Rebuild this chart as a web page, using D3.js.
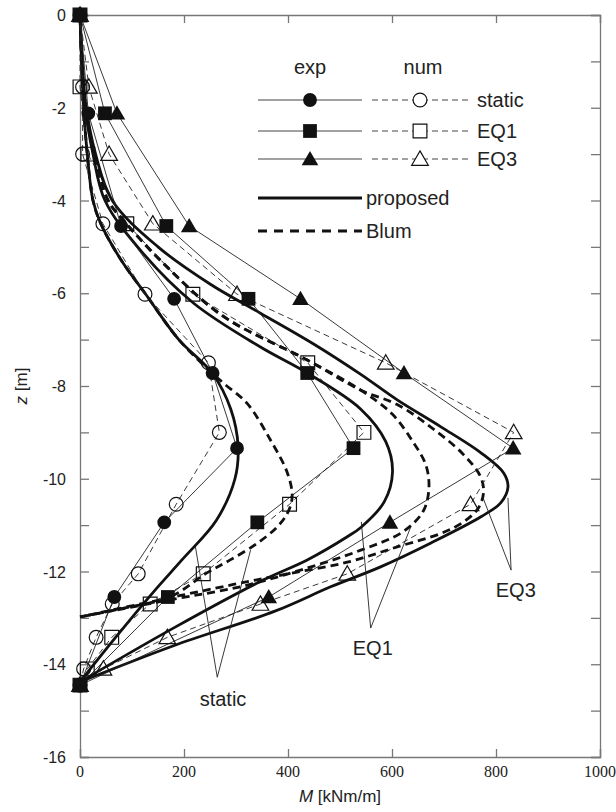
<!DOCTYPE html>
<html lang="en">
  <head>
    <meta charset="utf-8">
    <title>Bending moment profiles</title>
    <style type="text/css">
      body{
        margin: 0;
        background-color: white;
      }
      svg{
        display: block;
      }
      .ylab, .lab{
        font-family: "Liberation Sans", Arial, sans-serif;
        fill: #222;
      }
      .xlab{
        font-family: "Liberation Serif", "Times New Roman", serif;
        fill: #222;
      }
    </style>
  </head>
  <body>
    <div id='svg_container'></div>

    <script src="https://d3js.org/d3.v7.min.js"></script>
    <script type="text/javascript">

      // measured points (exp = filled markers, num = open markers)
      const expZ      = [0, -2.12, -4.55, -6.12, -7.72, -9.34, -10.94, -12.55, -14.45];
      const expStatic = [0, 16, 79, 181, 255, 302, 162, 66, 0];
      const expEQ1    = [0, 48, 166, 324, 437, 526, 341, 169, 0];
      const expEQ3    = [0, 71, 210, 424, 623, 833, 596, 363, 0];

      const numZ      = [0, -1.55, -3.0, -4.5, -6.02, -7.5, -9.0, -10.55, -12.05, -12.7, -13.42, -14.1, -14.45];
      const numStatic = [0, 5, 5, 44, 125, 247, 268, 185, 112, 62, 31, 7, 0];
      const numEQ1    = [0, 0, 15, 90, 217, 438, 546, 403, 237, 135, 61, 14, 0];
      const numEQ3    = [0, 17, 56, 140, 302, 588, 834, 751, 514, 347, 168, 45, 0];

      // proposed curves (thick solid)
      const propStaticZ = [0, -1, -2, -3, -4, -4.5, -5.3, -6, -7, -7.72, -8.5, -9.3, -10, -10.9, -11.75, -12.47, -13.4, -14.38];
      const propStaticM = [0, 3, 7, 14, 25, 40, 80, 125, 190, 254, 290, 304, 298, 262, 196, 139, 70, 0];
      const propEQ1Z = [0, -1, -2, -3, -4, -5.07, -6.21, -7.16, -7.72, -8.5, -9.2, -9.85, -10.5, -11.05, -11.25, -11.75, -12.18, -13.2, -14.38];
      const propEQ1M = [0, 4, 10, 25, 48, 116, 218, 347, 437, 540, 588, 601, 585, 540, 514, 437, 353, 183, 0];
      const propEQ3Z = [0, -1, -2, -3, -4, -5.0, -5.8, -6.43, -7.1, -7.75, -8.3, -8.88, -9.44, -9.88, -10.18, -10.52, -10.82, -11.39, -11.9, -12.33, -12.85, -13.6, -14.38];
      const propEQ3M = [0, 4, 12, 30, 62, 150, 250, 347, 450, 540, 610, 694, 771, 815, 823, 809, 771, 674, 578, 482, 376, 180, 0];

      // Blum curves (thick dashed)
      const blumStaticZ = [0, -1, -2, -3, -4, -4.5, -5.3, -6, -7, -7.72, -7.94, -8.37, -9.16, -9.88, -10.39, -10.74, -11.04, -11.39, -11.75, -12.03, -12.55, -12.8, -12.98];
      const blumStaticM = [0, 3, 7, 14, 25, 40, 80, 125, 190, 254, 276, 321, 366, 399, 408, 399, 379, 341, 289, 244, 173, 80, 0];
      const blumEQ1Z = [0, -1, -2, -3, -4, -4.42, -5.43, -6.5, -7.44, -8.09, -8.6, -9.2, -9.7, -10.2, -10.7, -11.15, -11.54, -11.97, -12.33, -12.61, -12.98];
      const blumEQ1M = [0, 4, 11, 28, 54, 83, 167, 276, 437, 540, 600, 640, 665, 671, 660, 620, 540, 424, 308, 173, 0];
      const blumEQ3Z = [0, -1, -2, -3, -4, -4.42, -5.43, -6.5, -7.44, -8.09, -8.4, -8.88, -9.45, -9.95, -10.3, -10.65, -10.95, -11.18, -11.47, -11.8, -12.05, -12.28, -12.62, -12.98];
      const blumEQ3M = [0, 4, 11, 28, 54, 83, 167, 276, 437, 540, 610, 674, 735, 770, 776, 765, 735, 694, 610, 514, 400, 295, 150, 0];

      const xTicks = [0, 200, 400, 600, 800, 1000];
      const yTicks = d3.range(0, -17, -1);
      const yLabels = [0, -2, -4, -6, -8, -10, -12, -14, -16];

      const callouts = ['static', 'EQ1', 'EQ3'];
      const calloutApex = [[264, -14.28], [559, -13.22], [829, -11.97]];
      const calloutEnds = [[[222, -11.47], [328, -11.54]], [[541, -10.93], [636, -11.04]], [[775, -10.41], [823, -10.41]]];
      const calloutText = [[275, -14.75], [563, -13.65], [838, -12.4]];

      const w = 616;
      const h = 812;
      const padL = 80, padR = 600, padT = 15, padB = 757;

      const axisColor = '#777';

      var scaleX = d3.scaleLinear().domain([0, 1000]).range([padL, padR]);
      var scaleY = d3.scaleLinear().domain([0, -16]).range([padT, padB]);

      var svg = d3.select('#svg_container').append('svg').attr('width', w).attr('height', h);

      function pairs(ms, zs){
        return ms.map((m, i) => [m, zs[i]]);
      }

      var line = d3.line().x(d => scaleX(d[0])).y(d => scaleY(d[1]));
      var smooth = d3.line().x(d => scaleX(d[0])).y(d => scaleY(d[1])).curve(d3.curveCatmullRom.alpha(0.5));

      // frame and ticks
      var xAxis = d3.axisBottom(scaleX).tickValues(xTicks).tickSize(-8).tickFormat('');
      var xAxisTop = d3.axisTop(scaleX).tickValues(xTicks).tickSize(-8).tickFormat('');
      var yAxis = d3.axisLeft(scaleY).tickValues(yTicks).tickSize(-9).tickFormat('');
      var yAxisRight = d3.axisRight(scaleY).tickValues(yTicks).tickSize(-9).tickFormat('');

      svg.append('g').attr('transform', 'translate(0,' + padB + ')').call(xAxis);
      svg.append('g').attr('transform', 'translate(0,' + padT + ')').call(xAxisTop);
      svg.append('g').attr('transform', 'translate(' + padL + ',0)').call(yAxis);
      svg.append('g').attr('transform', 'translate(' + padR + ',0)').call(yAxisRight);
      svg.selectAll('.domain').attr('stroke', axisColor).attr('stroke-width', 1.3);
      svg.selectAll('.tick line').attr('stroke', axisColor).attr('stroke-width', 1.3);

      svg.append('g').selectAll('text').data(xTicks).enter().append('text')
        .attr('class', 'xlab').attr('x', d => scaleX(d)).attr('y', padB + 20)
        .attr('text-anchor', 'middle').style('font-size', '16px').text(d => d);
      svg.append('g').selectAll('text').data(yLabels).enter().append('text')
        .attr('class', 'ylab').attr('x', padL - 14).attr('y', d => scaleY(d) + 6)
        .attr('text-anchor', 'end').style('font-size', '16px').text(d => d);

      var xt = svg.append('text').attr('class', 'lab').attr('x', (padL + padR) / 2).attr('y', padB + 45)
        .attr('text-anchor', 'middle').style('font-size', '17px');
      xt.append('tspan').style('font-style', 'italic').text('M');
      xt.append('tspan').text(' [kNm/m]');
      var yt = svg.append('text').attr('class', 'lab').attr('transform', 'translate(27,' + ((padT + padB) / 2) + ') rotate(-90)')
        .attr('text-anchor', 'middle').style('font-size', '17px');
      yt.append('tspan').style('font-style', 'italic').text('z');
      yt.append('tspan').text(' [m]');

      // theory curves
      var curves = [
        [propStaticM, propStaticZ, null], [propEQ1M, propEQ1Z, null], [propEQ3M, propEQ3Z, null],
        [blumStaticM, blumStaticZ, '8,5'], [blumEQ1M, blumEQ1Z, '8,5'], [blumEQ3M, blumEQ3Z, '8,5']
      ];
      svg.append('g').selectAll('path').data(curves).enter().append('path')
        .attr('d', d => smooth(pairs(d[0], d[1])))
        .attr('fill', 'none').attr('stroke', '#111').attr('stroke-width', 2.8)
        .attr('stroke-dasharray', d => d[2]);

      // measurement polylines
      var numSeries = [numStatic, numEQ1, numEQ3];
      var expSeries = [expStatic, expEQ3, expEQ1];
      svg.append('g').selectAll('path').data(numSeries).enter().append('path')
        .attr('d', d => line(pairs(d, numZ))).attr('fill', 'none')
        .attr('stroke', '#222').attr('stroke-width', 0.9).attr('stroke-dasharray', '6,4');
      svg.append('g').selectAll('path').data(expSeries).enter().append('path')
        .attr('d', d => line(pairs(d, expZ))).attr('fill', 'none')
        .attr('stroke', '#222').attr('stroke-width', 0.9);

      // callouts
      callouts.forEach(function(name, i){
        calloutEnds[i].forEach(function(e){
          svg.append('path').attr('d', line([e, calloutApex[i]]))
            .attr('stroke', '#222').attr('stroke-width', 0.9).attr('fill', 'none');
        });
        svg.append('text').attr('class', 'lab').attr('x', scaleX(calloutText[i][0])).attr('y', scaleY(calloutText[i][1]))
          .attr('text-anchor', 'middle').attr('dominant-baseline', 'central').style('font-size', '20px').text(name);
      });

      // markers
      var circle = d3.symbol().type(d3.symbolCircle).size(150);
      var square = d3.symbol().type(d3.symbolSquare).size(190);
      var tri = d3.symbol().type(d3.symbolTriangle).size(120);
      var shapes = [circle, square, tri];

      function drawMarkers(ms, zs, sym, filled, ofs){
        svg.append('g').selectAll('path').data(pairs(ms, zs)).enter().append('path')
          .attr('transform', d => 'translate(' + scaleX(d[0]) + ',' + (scaleY(d[1]) + (ofs || 0)) + ')')
          .attr('d', sym)
          .attr('fill', filled ? '#111' : 'none')
          .attr('stroke', '#111').attr('stroke-width', filled ? 0 : 1.2);
      }
      drawMarkers(numStatic, numZ, circle, false);
      drawMarkers(numEQ1, numZ, square, false);
      drawMarkers(numEQ3, numZ, tri, false, 1.5);
      drawMarkers(expStatic, expZ, circle, true);
      drawMarkers(expEQ3, expZ, tri, true, 1.5);
      drawMarkers(expEQ1, expZ, square, true);

      // legend
      var legend = svg.append('g').attr('id', 'legend');
      var rowsY = [100, 131, 159];
      var rowNames = ['static', 'EQ1', 'EQ3'];
      legend.append('text').attr('class', 'lab').attr('x', 310).attr('y', 74).attr('text-anchor', 'middle').style('font-size', '20px').text('exp');
      legend.append('text').attr('class', 'lab').attr('x', 423).attr('y', 74).attr('text-anchor', 'middle').style('font-size', '20px').text('num');
      rowsY.forEach(function(y, i){
        legend.append('line').attr('x1', 258).attr('x2', 362).attr('y1', y).attr('y2', y).attr('stroke', '#444').attr('stroke-width', 1);
        legend.append('line').attr('x1', 372).attr('x2', 470).attr('y1', y).attr('y2', y).attr('stroke', '#444').attr('stroke-width', 1).attr('stroke-dasharray', '6,4');
        legend.append('path').attr('transform', 'translate(310,' + (y + (i == 2 ? 1.5 : 0)) + ')').attr('d', shapes[i]).attr('fill', '#111');
        legend.append('path').attr('transform', 'translate(420,' + (y + (i == 2 ? 1.5 : 0)) + ')').attr('d', shapes[i]).attr('fill', 'white').attr('stroke', '#111').attr('stroke-width', 1.2);
        legend.append('text').attr('class', 'lab').attr('x', 477).attr('y', y).attr('dominant-baseline', 'central').style('font-size', '20px').text(rowNames[i]);
      });
      legend.append('line').attr('x1', 258).attr('x2', 362).attr('y1', 198).attr('y2', 198).attr('stroke', '#111').attr('stroke-width', 2.8);
      legend.append('text').attr('class', 'lab').attr('x', 366).attr('y', 198).attr('dominant-baseline', 'central').style('font-size', '20px').text('proposed');
      legend.append('line').attr('x1', 258).attr('x2', 362).attr('y1', 231).attr('y2', 231).attr('stroke', '#111').attr('stroke-width', 2.8).attr('stroke-dasharray', '9,7');
      legend.append('text').attr('class', 'lab').attr('x', 366).attr('y', 231).attr('dominant-baseline', 'central').style('font-size', '20px').text('Blum');

    </script>
  </body>
</html>
